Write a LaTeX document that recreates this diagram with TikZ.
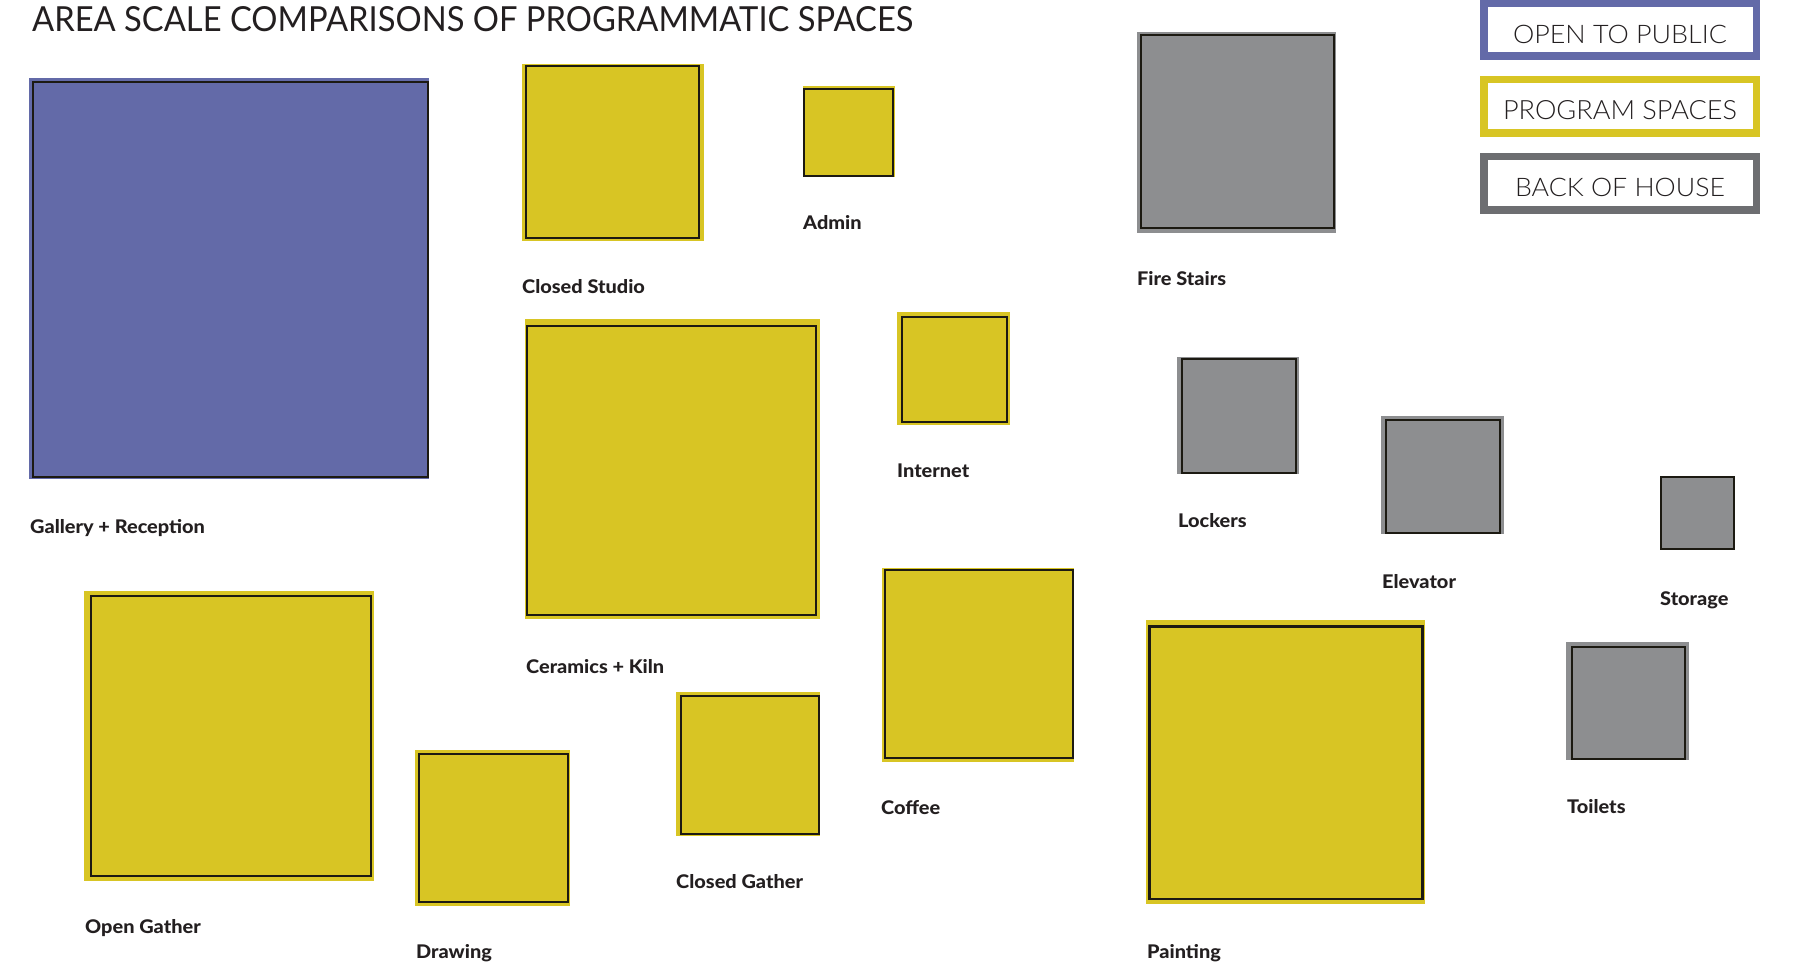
\documentclass[tikz,border=0pt]{standalone}
\usepackage{fontspec}
\usepackage{graphicx}
\setmainfont{Lato}
\newfontfamily\heavyfont{Lato Heavy}[FakeStretch=1.06]
\newfontfamily\lightfont{Lato Light}
\definecolor{pubblue}{HTML}{636AA8}
\definecolor{progyel}{HTML}{D8C524}
\definecolor{bohgray}{HTML}{8D8E90}
\definecolor{leggray}{HTML}{6D6E71}
\definecolor{inkdark}{HTML}{231F20}
\definecolor{edge}{HTML}{1C1A12}
\tikzset{
  edgeline/.style={draw=edge, line width=2pt},
  lbl/.style={anchor=base west, inner sep=0pt, text=inkdark, font=\heavyfont\fontsize{18.8}{20}\selectfont},
  legbox/.style={line width=7.5pt, fill=white},
  legtxt/.style={anchor=base, inner sep=0pt, text=inkdark, font=\lightfont}
}
\begin{document}
\begin{tikzpicture}[x=1pt,y=-1pt]
\useasboundingbox (0,0) rectangle (1806,968);
\fill[white] (0,0) rectangle (1806,968);

% title
\node[anchor=base west, inner sep=0pt, text=inkdark] (title) at (32,32)
  {\resizebox{881pt}{25pt}{AREA SCALE COMPARISONS OF PROGRAMMATIC SPACES}};

% legend
\draw[legbox, draw=pubblue] (1483.75,3.75) rectangle (1756.25,56.25);
\node[legtxt] (legpub) at (1620,43.3) {\resizebox{214pt}{18.3pt}{OPEN TO PUBLIC}};
\draw[legbox, draw=progyel] (1483.75,79.75) rectangle (1756.25,133.25);
\node[legtxt] (legprog) at (1620,120) {\resizebox{234pt}{19pt}{PROGRAM SPACES}};
\draw[legbox, draw=leggray] (1483.75,156.75) rectangle (1756.25,210.25);
\node[legtxt] (legboh) at (1620,197) {\resizebox{210pt}{18.3pt}{BACK OF HOUSE}};

% Gallery + Reception
\fill[pubblue] (29,78) rectangle (429,479);
\draw[edgeline] (33,82.5) rectangle (428,477);
\node[lbl] (gallery) at (30,533) {Gallery + Reception};

% Closed Studio
\fill[progyel] (522,64) rectangle (704,241);
\draw[edgeline] (526,65.7) rectangle (699.3,238.3);
\node[lbl] (closedstudio) at (522,293) {Closed Studio};

% Admin
\fill[progyel] (803,86) rectangle (895,177);
\draw[edgeline] (804,88.7) rectangle (893,175.7);
\node[lbl] (admin) at (803,230) {Admin};

% Fire Stairs
\fill[bohgray] (1137,32) rectangle (1336,233);
\draw[edgeline] (1141,35) rectangle (1333.7,227.7);
\node[lbl] (firestairs) at (1137,285) {Fire Stairs};

% Internet
\fill[progyel] (897,312) rectangle (1010,425);
\draw[edgeline] (902,317) rectangle (1006.7,422.3);
\node[lbl] (internet) at (897,477) {Internet};

% Ceramics + Kiln
\fill[progyel] (525,319) rectangle (820,619);
\draw[edgeline] (527,326) rectangle (815.7,614.7);
\node[lbl] (ceramics) at (526,673) {Ceramics + Kiln};

% Lockers
\fill[bohgray] (1177,357) rectangle (1299,474);
\draw[edgeline] (1181.7,358.7) rectangle (1296,473);
\node[lbl] (lockers) at (1178,527) {Lockers};

% Elevator
\fill[bohgray] (1381,416) rectangle (1504,534);
\draw[edgeline] (1386,420.3) rectangle (1499.7,533.3);
\node[lbl] (elevator) at (1382,588) {Elevator};

% Storage
\fill[bohgray] (1660,476) rectangle (1735,550);
\draw[edgeline] (1661,476.7) rectangle (1733.7,549.3);
\node[lbl] (storage) at (1660,605) {Storage};

% Toilets
\fill[bohgray] (1566,642) rectangle (1689,760);
\draw[edgeline] (1571.7,646.7) rectangle (1685.3,759);
\node[lbl] (toilets) at (1567,813) {Toilets};

% Open Gather
\fill[progyel] (84,591) rectangle (374,881);
\draw[edgeline] (90.7,595.7) rectangle (371,875.7);
\node[lbl] (opengather) at (85,933) {Open Gather};

% Drawing
\fill[progyel] (415,750) rectangle (570,906);
\draw[edgeline] (419,754.3) rectangle (567.7,902.3);
\node[lbl] (drawing) at (416,958) {Drawing};

% Closed Gather
\fill[progyel] (676,692) rectangle (820,836);
\draw[edgeline] (680.7,696) rectangle (818.7,834);
\node[lbl] (closedgather) at (676,888) {Closed Gather};

% Coffee
\fill[progyel] (882,568) rectangle (1074,762);
\draw[edgeline] (884.6,570.3) rectangle (1072.9,758);
\node[lbl] (coffee) at (881,814) {Coffee};

% Painting
\fill[progyel] (1146,620) rectangle (1425,904);
\draw[edgeline, line width=2.7pt] (1149.3,626.7) rectangle (1422.5,899);
\node[lbl] (painting) at (1147,958) {Painting};
\end{tikzpicture}
\end{document}
